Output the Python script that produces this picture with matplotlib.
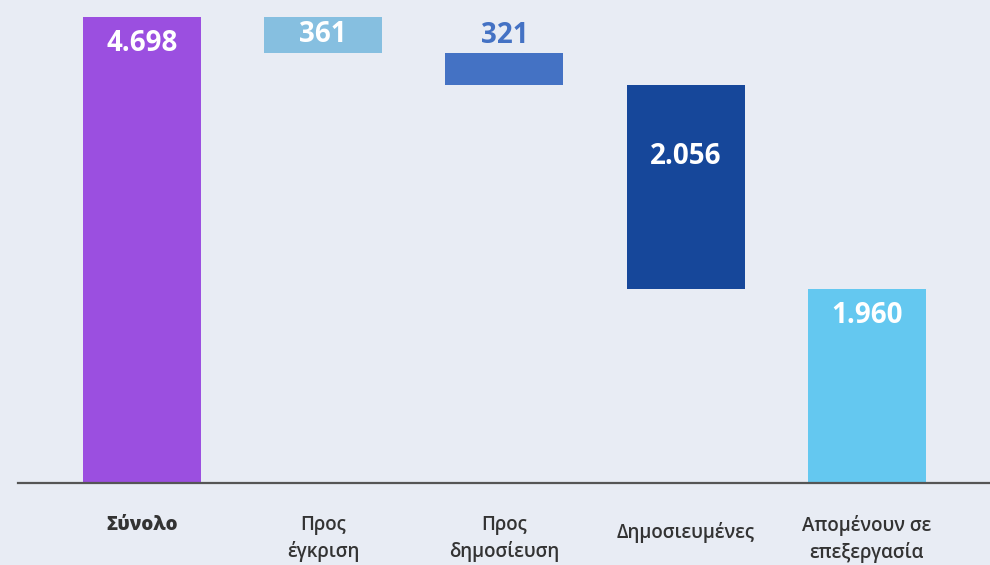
import matplotlib.pyplot as plt
import numpy as np

plt.rcParams['font.family'] = ['Open Sans', 'DejaVu Sans']

categories = ['Σύνολο', 'Προς\nέγκριση', 'Προς\nδημοσίευση', 'Δημοσιευμένες', 'Απομένουν σε\nεπεξεργασία']
values = [4698, 361, 321, 2056, 1960]
value_labels = ['4.698', '361', '321', '2.056', '1.960']
colors = ['#9b4fe0', '#86bfe0', '#4472c4', '#16479a', '#64c8f0']
bg = '#e8ecf4'

# waterfall: total, then steps down, last bar is remainder from zero
bottoms = []
level = values[0]
for i, v in enumerate(values):
    if i == 0 or i == len(values) - 1:
        bottoms.append(0)
    else:
        level -= v
        bottoms.append(level)

fig = plt.figure(figsize=(9.9, 5.65), dpi=100, facecolor=bg)
ax = fig.add_axes([0.018, 0.145, 0.982, 0.825])
ax.set_facecolor(bg)

x = np.arange(len(values))
ax.bar(x, values, bottom=bottoms, width=0.65, color=colors)

ax.set_xlim(-0.684, 4.679)
ax.set_ylim(0, values[0])

fs = 20
for i, (v, b, lab) in enumerate(zip(values, bottoms, value_labels)):
    top = b + v
    if i == 2:
        ax.annotate(lab, (i, top), xytext=(0, 2), textcoords='offset points',
                    ha='center', va='bottom', fontsize=fs, fontweight='bold',
                    color='#4472c4')
    elif i == 1:
        ax.text(i, b + v / 2, lab, ha='center', va='center', fontsize=fs,
                fontweight='bold', color='white')
    else:
        off = -41 if i == 3 else -9
        ax.annotate(lab, (i, top), xytext=(0, off), textcoords='offset points',
                    ha='center', va='top', fontsize=fs, fontweight='bold',
                    color='white')

for s in ['top', 'right', 'left']:
    ax.spines[s].set_visible(False)
ax.spines['bottom'].set_color('#555555')
ax.spines['bottom'].set_linewidth(1.6)
ax.set_yticks([])
ax.set_xticks([])

for i, c in enumerate(categories):
    weight = 'heavy' if i == 0 else 'semibold'
    if '\n' in c:
        ax.text(i, -0.068, c, transform=ax.get_xaxis_transform(), ha='center',
                va='top', fontsize=13.5, fontweight=weight, color='#333333',
                linespacing=1.4)
    else:
        y = -0.068 if i == 0 else -0.107
        va = 'top' if i == 0 else 'center'
        ax.text(i, y, c, transform=ax.get_xaxis_transform(), ha='center',
                va=va, fontsize=13.5, fontweight=weight, color='#333333')

fig.savefig('out.png', dpi=100, facecolor=bg)
